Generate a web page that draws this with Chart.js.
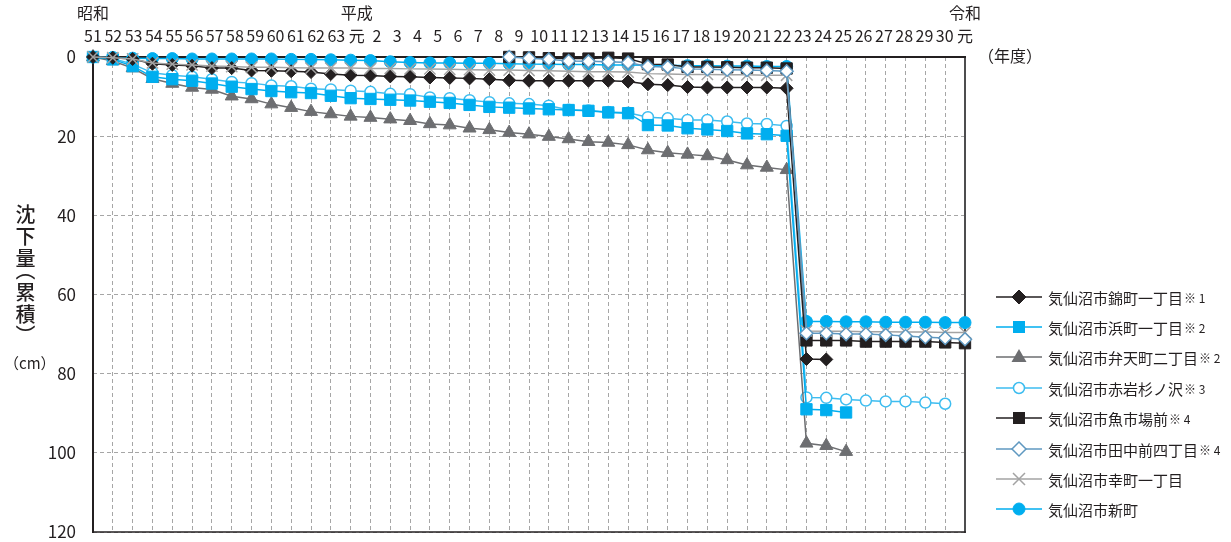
<!DOCTYPE html>
<html lang="ja">
<head>
<meta charset="UTF-8">
<title>気仙沼市 沈下量（累積）</title>
<script src="https://cdn.jsdelivr.net/npm/chart.js"></script>
<style>
  html, body { margin: 0; padding: 0; background: #fff; }
  body { width: 1231px; height: 542px; position: relative; overflow: hidden;
         font-family: "Noto Sans CJK JP", sans-serif; color: #231f20; }
  #chart { position: absolute; left: 0; top: 0; }
  .ytitle { position: absolute; left: 13px; top: 204px; writing-mode: vertical-rl;
            font-size: 20px; line-height: 24px; font-weight: 500; letter-spacing: 2px;
            font-feature-settings: "vpal" 1; }
  .unit { position: absolute; left: 4px; top: 352px; font-size: 15px; }
  .nendo { position: absolute; left: 978px; top: 43px; font-size: 16px; }
  #legend { position: absolute; left: 995px; top: 282px; }
  #legend div { height: 30.4px; display: flex; align-items: center; font-size: 15px; white-space: nowrap; }
  #legend svg { margin-right: 5px; }
  #legend small { font-size: 12px; margin-left: 1px; }
</style>
</head>
<body>
<canvas id="chart" width="1231" height="542"></canvas>
<div class="ytitle">沈下量（累積）</div>
<div class="unit">（cm）</div>
<div class="nendo">（年度）</div>
<div id="legend"></div>

<script>
// printed year labels along the top (昭和51 … 平成30, 令和元)
const yearLabels = ['51','52','53','54','55','56','57','58','59','60','61','62','63',
  '元','2','3','4','5','6','7','8','9','10','11','12','13','14','15','16','17','18','19','20',
  '21','22','23','24','25','26','27','28','29','30','元'];
const eraNames = ['昭和', '平成', '令和'];
const eraAt = [0, 13, 43];

// the source plots 45 columns under those 44 labels; values in cm
const nishiki = [0, 0.2, 0.5, 1.7, 2.0, 2.2, 2.8, 2.8, 3.4, 3.5, 3.6, 3.8, 4.3, 4.6, 4.7, 4.9, 5.0, 5.2, 5.3, 5.4, 5.6,
  5.9, 6.0, 6.0, 6.0, 6.0, 6.0, 6.2, 6.9, 7.1, 7.6, 7.7, 7.7, 7.7, 7.7, 7.9, 76.3, 76.4,
  null, null, null, null, null, null, null];
const hama = [0, 0.6, 2.3, 5.0, 5.6, 6.0, 6.7, 7.5, 8.1, 8.6, 8.9, 9.1, 9.8, 10.4, 10.6, 10.8, 11.0, 11.3, 11.6, 12.1, 12.6,
  12.8, 13.0, 13.2, 13.4, 13.6, 14.0, 14.2, 17.2, 17.3, 18.0, 18.3, 18.7, 19.3, 19.5, 19.9, 89.0, 89.2, 89.8,
  null, null, null, null, null, null];
const benten = [0, 1.0, 2.8, 5.5, 6.7, 7.7, 8.2, 9.9, 10.6, 11.9, 12.8, 13.8, 14.4, 15.0, 15.3, 15.7, 16.1, 16.9, 17.2, 18.0, 18.4,
  19.1, 19.5, 20.1, 20.7, 21.4, 21.6, 22.2, 23.5, 24.2, 24.6, 25.0, 26.0, 27.3, 27.9, 28.5, 97.6, 98.2, 99.7,
  null, null, null, null, null, null];
const akaiwa = [0, 0.4, 1.8, 4.0, 4.6, 5.0, 5.6, 6.3, 6.6, 7.2, 7.4, 8.0, 8.2, 8.5, 8.8, 9.3, 9.4, 10.2, 10.4, 10.9, 11.4,
  11.7, 11.9, 12.3, 13.3, 13.5, 13.9, 14.1, 15.2, 15.5, 15.9, 15.9, 16.3, 16.8, 16.9, 17.4, 86.0, 86.1, 86.5,
  86.8, 87.0, 87.0, 87.3, 87.6, null];
const uoichiba = [null, null, null, null, null, null, null, null, null, null, null, null, null, null, null, null, null, null, null, null, null,
  0.0, 0.1, 0.3, 0.4, 0.4, 0.2, 0.4, 1.8, 1.9, 2.5, 2.5, 2.6, 2.7, 2.7, 2.9, 71.6, 71.6, 71.6,
  71.9, 71.9, 71.9, 71.9, 72.1, 72.3];
const tanaka = [null, null, null, null, null, null, null, null, null, null, null, null, null, null, null, null, null, null, null, null, null,
  0.0, 0.3, 0.6, 1.0, 1.1, 1.2, 1.4, 2.4, 2.5, 3.0, 3.1, 3.2, 3.3, 3.4, 3.6, 69.8, 69.8, 70.0,
  70.0, 70.2, 70.5, 70.8, 71.0, 71.3];
const saiwai = [0, 0.2, 0.5, 1.5, 1.8, 2.0, 2.3, 2.4, 2.6, 2.6, 2.7, 2.8, 2.8, 2.8, 2.9, 2.9, 3.0, 3.0, 3.1, 3.2, 3.3,
  3.3, 3.4, 3.5, 3.6, 3.7, 3.7, 3.8, 4.2, 4.3, 4.4, 4.4, 4.5, 4.5, 4.6, 4.6, 69.2, 69.3, 69.3,
  69.4, 69.4, 69.5, 69.5, 69.6, 69.6];
const shinmachi = [0, 0.1, 0.3, 0.4, 0.4, 0.5, 0.5, 0.5, 0.5, 0.5, 0.6, 0.6, 0.7, 0.8, 0.9, 1.2, 1.4, 1.5, 1.5, 1.6, 1.6,
  1.7, 1.8, 1.8, 1.9, 1.9, 2.0, 2.0, 2.1, 2.1, 2.2, 2.2, 2.3, 2.3, 2.4, 2.4, 66.8, 66.8, 66.9,
  66.9, 67.0, 67.0, 67.0, 67.1, 67.1];

const seriesNames = ['気仙沼市錦町一丁目', '気仙沼市浜町一丁目', '気仙沼市弁天町二丁目', '気仙沼市赤岩杉ノ沢',
  '気仙沼市魚市場前', '気仙沼市田中前四丁目', '気仙沼市幸町一丁目', '気仙沼市新町'];
const seriesNotes = ['※ 1', '※ 2', '※ 2', '※ 3', '※ 4', '※ 4', '', ''];
const seriesValues = [nishiki, hama, benten, akaiwa, uoichiba, tanaka, saiwai, shinmachi];

// look of each series (line colour, marker), and which one sits on top
const styles = [
  { line: '#231f20', shape: 'rectRot',  r: 6.5, fill: '#231f20', edge: '#231f20', bw: 1,   order: 2 },
  { line: '#00aeef', shape: 'rect',     r: 8,   fill: '#00aeef', edge: '#00aeef', bw: 1,   order: 5 },
  { line: '#6d6e71', shape: 'triangle', r: 7.5, fill: '#6d6e71', edge: '#6d6e71', bw: 1,   order: 6 },
  { line: '#3dbdf0', shape: 'circle',   r: 5.5, fill: '#ffffff', edge: '#3dbdf0', bw: 1.5, order: 7 },
  { line: '#231f20', shape: 'rect',     r: 8,   fill: '#231f20', edge: '#231f20', bw: 1,   order: 4 },
  { line: '#5f98c0', shape: 'rectRot',  r: 6.5, fill: '#ffffff', edge: '#5f98c0', bw: 1.5, order: 0 },
  { line: '#a3a3a3', shape: 'crossRot', r: 8,   fill: '#a3a3a3', edge: '#a3a3a3', bw: 1.5, order: 1 },
  { line: '#00aeef', shape: 'circle',   r: 6,   fill: '#00aeef', edge: '#00aeef', bw: 1,   order: 8 }
];

const datasets = seriesValues.map((vals, k) => ({
  label: seriesNames[k] + seriesNotes[k],
  data: vals.map((v, i) => ({ x: i, y: v })),
  borderColor: styles[k].line,
  borderWidth: 1.5,
  pointStyle: styles[k].shape,
  pointRadius: styles[k].r,
  pointBackgroundColor: styles[k].fill,
  pointBorderColor: styles[k].edge,
  pointBorderWidth: styles[k].bw,
  tension: 0,
  clip: false,
  order: styles[k].order
}));

// solid frame round the plot area, under the markers
const frame = {
  id: 'frame',
  beforeDatasetsDraw(chart) {
    const { ctx, chartArea: a } = chart;
    ctx.save();
    ctx.lineCap = 'square';
    ctx.strokeStyle = '#4d4d4f';
    ctx.lineWidth = 2;
    ctx.beginPath(); ctx.moveTo(a.right, a.top); ctx.lineTo(a.right, a.bottom); ctx.stroke();
    ctx.strokeStyle = '#231f20';
    ctx.lineWidth = 1.5;
    ctx.beginPath(); ctx.moveTo(a.left, a.bottom); ctx.lineTo(a.right, a.bottom); ctx.stroke();
    ctx.lineWidth = 2;
    ctx.beginPath(); ctx.moveTo(a.right, a.top); ctx.lineTo(a.left, a.top); ctx.lineTo(a.left, a.bottom); ctx.stroke();
    ctx.restore();
  }
};

const gridDash = { display: false, dash: [4, 3] };

new Chart(document.getElementById('chart'), {
  type: 'line',
  data: { datasets },
  options: {
    responsive: false,
    animation: false,
    layout: { padding: { left: 0, right: 266, top: 0, bottom: 10 } },
    plugins: { legend: { display: false }, tooltip: { enabled: false } },
    scales: {
      x: {
        type: 'linear', position: 'top', min: 0, max: 44, weight: 0,
        ticks: { display: false, stepSize: 1, maxTicksLimit: 100, autoSkip: false },
        grid: { color: '#a6a6a6', lineWidth: 1, drawTicks: false },
        border: gridDash,
        afterFit(s) { s.height = 0; }
      },
      years: {
        type: 'linear', position: 'top', min: 0, max: 43, weight: 1,
        grid: { display: false, drawTicks: false },
        border: { display: false },
        ticks: {
          stepSize: 1, maxTicksLimit: 100, autoSkip: false, maxRotation: 0, padding: 10,
          color: '#231f20',
          font: { family: "'Noto Sans CJK JP'", size: 16, lineHeight: 1.4 },
          callback(v) {
            const i = Math.round(v);
            const e = eraAt.indexOf(i);
            return e >= 0 ? [eraNames[e], yearLabels[i]] : yearLabels[i];
          }
        },
        afterFit(s) { s.height = 57; s.paddingLeft = 0; s.paddingRight = 0; }
      },
      y: {
        reverse: true, min: 0, max: 120,
        ticks: { stepSize: 20, padding: 17, color: '#231f20',
                 font: { family: "'Noto Sans CJK JP'", size: 17 } },
        grid: { color: '#a6a6a6', lineWidth: 1, drawTicks: false },
        border: gridDash,
        afterFit(s) { s.width = 93; s.paddingTop = 0; s.paddingBottom = 0; }
      }
    }
  },
  plugins: [frame]
});

// legend: a short line with the series marker, then the name
function swatch(st) {
  const c = 24, m = 8;
  let mark = '';
  if (st.shape === 'rectRot') {
    mark = `<polygon points="${c-7},${m} ${c},${m-7} ${c+7},${m} ${c},${m+7}" fill="${st.fill}" stroke="${st.edge}" stroke-width="${st.bw}"/>`;
  } else if (st.shape === 'rect') {
    mark = `<rect x="${c-6}" y="${m-6}" width="12" height="12" fill="${st.fill}"/>`;
  } else if (st.shape === 'triangle') {
    mark = `<polygon points="${c},${m-8} ${c+7.5},${m+5} ${c-7.5},${m+5}" fill="${st.fill}"/>`;
  } else if (st.shape === 'crossRot') {
    mark = `<path d="M${c-6},${m-6}L${c+6},${m+6}M${c+6},${m-6}L${c-6},${m+6}" stroke="${st.edge}" stroke-width="1.5"/>`;
  } else {
    mark = `<circle cx="${c}" cy="${m}" r="${st.r}" fill="${st.fill}" stroke="${st.edge}" stroke-width="${st.bw}"/>`;
  }
  return `<svg width="48" height="17" viewBox="0 0 48 17"><line x1="1" y1="${m}" x2="47" y2="${m}" stroke="${st.line}" stroke-width="1.5"/>${mark}</svg>`;
}
document.getElementById('legend').innerHTML = seriesNames.map((n, k) =>
  `<div>${swatch(styles[k])}<span>${n}</span>${seriesNotes[k] ? '<small>' + seriesNotes[k] + '</small>' : ''}</div>`
).join('');
</script>
</body>
</html>
